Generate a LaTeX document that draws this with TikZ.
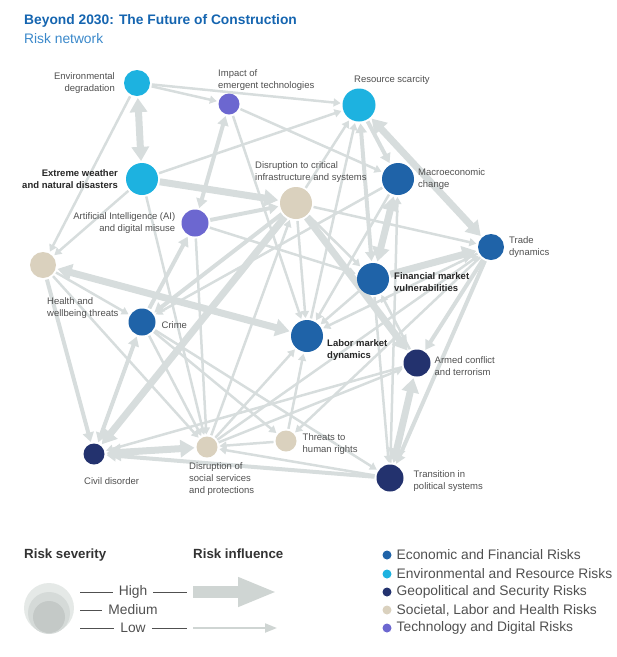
\documentclass[tikz,border=0pt]{standalone}
\usepackage{fontspec}
\setmainfont{Liberation Sans}
\usetikzlibrary{arrows.meta,positioning,backgrounds}
\definecolor{econ}{RGB}{31,99,168}
\definecolor{envi}{RGB}{29,178,224}
\definecolor{geop}{RGB}{35,50,110}
\definecolor{soci}{RGB}{218,209,190}
\definecolor{tech}{RGB}{108,103,208}
\definecolor{linkgray}{RGB}{215,221,221}
\definecolor{titleblue}{RGB}{21,101,176}
\definecolor{subblue}{RGB}{58,136,202}
\definecolor{txtgray}{RGB}{80,80,80}
\definecolor{sevhi}{RGB}{229,233,231}
\definecolor{sevmd}{RGB}{213,218,216}
\definecolor{sevlo}{RGB}{196,201,199}
\definecolor{legarrow}{RGB}{207,213,211}
\tikzset{
  risk/.style={circle,inner sep=0pt,outer sep=2pt,minimum size=#1},
  lbl/.style={font=\fontsize{9.5}{12}\selectfont,text=txtgray,inner sep=0pt},
  blbl/.style={font=\fontsize{9.5}{12}\selectfont\bfseries,text=black!85,inner sep=0pt},
  link/.style={draw=linkgray,line width=#1,-{Triangle[length=3pt 1.6,width=3pt 2]}},
  lo/.style={link=2.5pt},
  md/.style={link=4pt},
  hi/.style={link=7pt},
  both/.style={{Triangle[length=3pt 1.6,width=3pt 2]}-{Triangle[length=3pt 1.6,width=3pt 2]}},
  legtxt/.style={font=\fontsize{13.8}{15}\selectfont,text=txtgray,inner sep=0pt},
  leghead/.style={font=\fontsize{13.3}{15}\selectfont\bfseries,text=black!80,inner sep=0pt}
}
\begin{document}
\begin{tikzpicture}[x=1pt,y=-1pt]
  \useasboundingbox (0,0) rectangle (617,657);
  \node[font=\fontsize{13.8}{15}\selectfont\bfseries,text=titleblue,anchor=base west,inner sep=0pt] (title) at (24,24) {Beyond 2030: The Future of Construction};
  \node[font=\fontsize{13.8}{15}\selectfont,text=subblue,anchor=base west,inner sep=0pt] (subtitle) at (24,43) {Risk network};

  \node[risk=26pt,fill=envi] (envdeg) at (137,83) {};
  \node[risk=21pt,fill=tech] (impact) at (229,104) {};
  \node[risk=33pt,fill=envi] (resource) at (359,105) {};
  \node[risk=32pt,fill=envi] (extreme) at (142,179) {};
  \node[risk=32pt,fill=soci] (infra) at (296,203) {};
  \node[risk=32pt,fill=econ] (macro) at (398,179) {};
  \node[risk=27pt,fill=tech] (ai) at (195,223) {};
  \node[risk=26pt,fill=econ] (trade) at (491,247) {};
  \node[risk=26pt,fill=soci] (health) at (43,265) {};
  \node[risk=32pt,fill=econ] (fin) at (373,279) {};
  \node[risk=27pt,fill=econ] (crime) at (142,322) {};
  \node[risk=32pt,fill=econ] (labor) at (307,336) {};
  \node[risk=27pt,fill=geop] (armed) at (417,363) {};
  \node[risk=21pt,fill=geop] (civil) at (94,454) {};
  \node[risk=21pt,fill=soci] (social) at (207,447) {};
  \node[risk=21pt,fill=soci] (threats) at (286,441) {};
  \node[risk=27pt,fill=geop] (trans) at (390,478) {};

  \node[lbl,align=right,left=7pt of envdeg] (envdeglbl) {Environmental\\degradation};
  \node[lbl,align=left,anchor=south west] (impactlbl) at ([xshift=-11pt,yshift=1pt]impact.north) {Impact of\\emergent technologies};
  \node[lbl,anchor=south west] (resourcelbl) at ([xshift=-5pt,yshift=2pt]resource.north) {Resource scarcity};
  \node[blbl,align=right,left=6pt of extreme] (extremelbl) {Extreme weather\\and natural disasters};
  \node[lbl,align=left,anchor=south west] (infralbl) at ([xshift=-41pt,yshift=2pt]infra.north) {Disruption to critical\\infrastructure and systems};
  \node[lbl,align=left,right=2pt of macro] (macrolbl) {Macroeconomic\\change};
  \node[lbl,align=right,left=4pt of ai] (ailbl) {Artificial Intelligence (AI)\\and digital misuse};
  \node[lbl,align=left,right=3pt of trade] (tradelbl) {Trade\\dynamics};
  \node[lbl,align=left,anchor=north west] (healthlbl) at ([xshift=4pt,yshift=-17pt]health.south) {Health and\\wellbeing threats};
  \node[blbl,align=left,right=3pt of fin,yshift=-3pt] (finlbl) {Financial market\\vulnerabilities};
  \node[lbl,right=4pt of crime,yshift=-3pt] (crimelbl) {Crime};
  \node[blbl,align=left,anchor=west] (laborlbl) at ([xshift=2pt,yshift=-14pt]labor.east) {Labor market\\dynamics};
  \node[lbl,align=left,right=2pt of armed,yshift=-3pt] (armedlbl) {Armed conflict\\and terrorism};
  \node[lbl,anchor=north west] (civillbl) at ([xshift=-10pt,yshift=-11pt]civil.south) {Civil disorder};
  \node[lbl,align=left,anchor=north west] (sociallbl) at ([xshift=-18pt,yshift=-3pt]social.south) {Disruption of\\social services\\and protections};
  \node[lbl,align=left,right=4pt of threats,yshift=-3pt] (threatslbl) {Threats to\\human rights};
  \node[lbl,align=left,right=8pt of trans,yshift=-3pt] (translbl) {Transition in\\political systems};

  \begin{pgfonlayer}{background}
    \draw[lo] (envdeg) -- (impact);
    \draw[lo] (envdeg) -- (resource);
    \draw[lo] (envdeg) -- (health);
    \draw[lo] (extreme) -- (resource);
    \draw[lo] (extreme) -- (health);
    \draw[lo] (extreme) -- (social);
    \draw[lo] (impact) -- (macro);
    \draw[lo] (impact) -- (labor);
    \draw[lo] (ai) -- (fin);
    \draw[lo] (ai) -- (social);
    \draw[lo] (infra) -- (resource);
    \draw[lo] (infra) -- (trade);
    \draw[lo] (infra) -- (labor);
    \draw[lo] (infra) -- (fin);
    \draw[lo] (labor) -- (resource);
    \draw[lo] (macro) -- (labor);
    \draw[lo] (macro) -- (crime);
    \draw[lo] (trans) -- (macro);
    \draw[lo] (trade) -- (labor);
    \draw[lo] (trade) -- (threats);
    \draw[lo] (fin) -- (labor);
    \draw[lo] (fin) -- (trans);
    \draw[lo] (armed) -- (fin);
    \draw[lo] (health) -- (crime);
    \draw[lo] (health) -- (social);
    \draw[lo] (crime) -- (social);
    \draw[lo] (crime) -- (threats);
    \draw[lo] (crime) -- (trans);
    \draw[lo] (threats) -- (social);
    \draw[lo] (threats) -- (labor);
    \draw[lo] (trans) -- (social);
    \draw[lo] (social) -- (labor);
    \draw[lo] (social) -- (infra);
    \draw[lo] (social) -- (armed);
    \draw[lo] (social) -- (trade);
    \draw[lo] (armed) -- (civil);
    \draw[md] (ai) -- (infra);
    \draw[md,both] (ai) -- (impact);
    \draw[md] (crime) -- (ai);
    \draw[md] (infra) -- (crime);
    \draw[md] (health) -- (civil);
    \draw[md,both] (crime) -- (civil);
    \draw[md,both] (resource) -- (fin);
    \draw[md] (resource) -- (macro);
    \draw[md] (trade) -- (armed);
    \draw[md] (trade) -- (trans);
    \draw[md] (trans) -- (civil);
    \draw[hi,both] (envdeg) -- (extreme);
    \draw[hi] (extreme) -- (infra);
    \draw[hi] (infra) -- (civil);
    \draw[hi] (infra) -- (armed);
    \draw[hi,both] (health) -- (labor);
    \draw[hi,both] (civil) -- (social);
    \draw[hi,both] (resource) -- (trade);
    \draw[hi,both] (macro) -- (fin);
    \draw[hi] (fin) -- (trade);
    \draw[hi,both] (armed) -- (trans);
  \end{pgfonlayer}

  \node[leghead,anchor=base west] (sevhead) at (24,558) {Risk severity};
  \node[leghead,anchor=base west] (inflhead) at (193,558) {Risk influence};
  \node[risk=50pt,fill=sevhi] (sevhigh) at (49,608) {};
  \node[risk=42pt,fill=sevmd] (sevmed) at (49,613) {};
  \node[risk=32pt,fill=sevlo] (sevlow) at (49,617) {};
  \node[legtxt] (hightxt) at (133,592) {High};
  \node[legtxt] (medtxt) at (133,610) {Medium};
  \node[legtxt] (lowtxt) at (133,628) {Low};
  \coordinate (highstart) at (193,592);
  \coordinate (highend) at (277,592);
  \coordinate (lowstart) at (193,628);
  \coordinate (lowend) at (277,628);
  \draw[txtgray,line width=0.6pt] (80,592) -- ([xshift=-6pt]hightxt.west);
  \draw[txtgray,line width=0.6pt] ([xshift=6pt]hightxt.east) -- ([xshift=-6pt]highstart);
  \draw[txtgray,line width=0.6pt] (80,610) -- ([xshift=-6pt]medtxt.west);
  \draw[txtgray,line width=0.6pt] (80,628) -- ([xshift=-6pt]lowtxt.west);
  \draw[txtgray,line width=0.6pt] ([xshift=6pt]lowtxt.east) -- ([xshift=-6pt]lowstart);
  \draw[legarrow,line width=12pt,-{Triangle[length=39pt,width=27pt]}] (highstart) -- (highend);
  \draw[legarrow,line width=2pt,-{Triangle[length=12pt,width=9pt]}] (lowstart) -- (lowend);

  \node[risk=9pt,fill=econ] (dotecon) at (387,555) {};
  \node[risk=9pt,fill=envi] (dotenvi) at (387,574) {};
  \node[risk=9pt,fill=geop] (dotgeop) at (387,592) {};
  \node[risk=9pt,fill=soci] (dotsoci) at (387,610) {};
  \node[risk=9pt,fill=tech] (dottech) at (387,628) {};
  \node[legtxt,right=3pt of dotecon] (keyecon) {Economic and Financial Risks};
  \node[legtxt,right=3pt of dotenvi] (keyenvi) {Environmental and Resource Risks};
  \node[legtxt,right=3pt of dotgeop] (keygeop) {Geopolitical and Security Risks};
  \node[legtxt,right=3pt of dotsoci] (keysoci) {Societal, Labor and Health Risks};
  \node[legtxt,right=3pt of dottech] (keytech) {Technology and Digital Risks};
\end{tikzpicture}
\end{document}
